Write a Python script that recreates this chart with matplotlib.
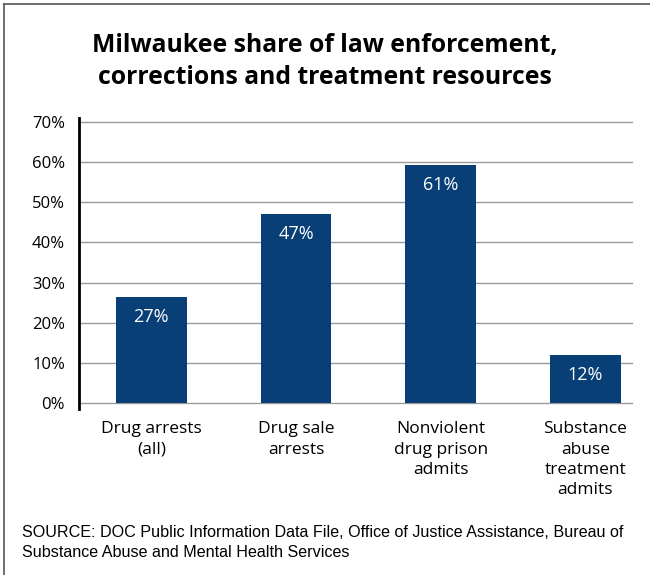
import matplotlib
matplotlib.use("Agg")
import matplotlib.pyplot as plt
from matplotlib.lines import Line2D

categories = ["Drug arrests\n(all)", "Drug sale\narrests", "Nonviolent\ndrug prison\nadmits",
              "Substance\nabuse\ntreatment\nadmits"]
values = [26.5, 47, 59.2, 12]
value_labels = ["27%", "47%", "61%", "12%"]
yticks = [0, 10, 20, 30, 40, 50, 60, 70]
ytick_labels = ["0%", "10%", "20%", "30%", "40%", "50%", "60%", "70%"]

title = "Milwaukee share of law enforcement,\ncorrections and treatment resources"
source = ("SOURCE: DOC Public Information Data File, Office of Justice Assistance, Bureau of\n"
          "Substance Abuse and Mental Health Services")

BAR = "#073f76"
FONT = "Open Sans"

fig = plt.figure(figsize=(6.5, 5.75), dpi=100)
fig.patch.set_facecolor("white")
ax = fig.add_axes([0.1215, 0.2887, 0.974 - 0.1215, 0.7948 - 0.2887])

x = list(range(len(categories)))
for yv in yticks:
    ax.axhline(yv, color="#9a9a9a", lw=1.0, zorder=1)
ax.bar(x, values, width=0.49, color=BAR, zorder=2)
for xi, v, lab in zip(x, values, value_labels):
    ax.annotate(lab, (xi, v), xytext=(0, -14.5), textcoords="offset points",
                ha="center", va="center", color="white", fontsize=13, family=FONT)

ax.set_xlim(-0.5, 3.33)
ax.set_ylim(-1.5, 71)
ax.set_yticks(yticks)
ax.set_yticklabels(ytick_labels, fontsize=12, family=FONT)
ax.set_xticks(x)
ax.set_xticklabels(categories, fontsize=12.5, family=FONT, linespacing=1.36, va="top")
ax.tick_params(axis="y", length=0, pad=10)
ax.tick_params(axis="x", length=0, pad=9)
for s in ["top", "right", "bottom"]:
    ax.spines[s].set_visible(False)
ax.spines["left"].set_linewidth(2.0)
ax.spines["left"].set_color("black")

fig.text(0.5, 1 - 61.5 / 575, title, ha="center", va="center", fontsize=17.8,
         fontweight="bold", family=FONT, linespacing=1.35)
fig.text(22 / 650, 1 - 542.5 / 575, source, ha="left", va="center", fontsize=11.6,
         family="Liberation Sans", linespacing=1.36)

fig.add_artist(Line2D([4 / 650, 4 / 650], [0, 1 - 4 / 575], color="#555555", lw=1.2,
                      transform=fig.transFigure))
fig.add_artist(Line2D([4 / 650, 1], [1 - 4 / 575, 1 - 4 / 575], color="#555555", lw=1.2,
                      transform=fig.transFigure))

fig.savefig("out.png", dpi=100, facecolor="white")
